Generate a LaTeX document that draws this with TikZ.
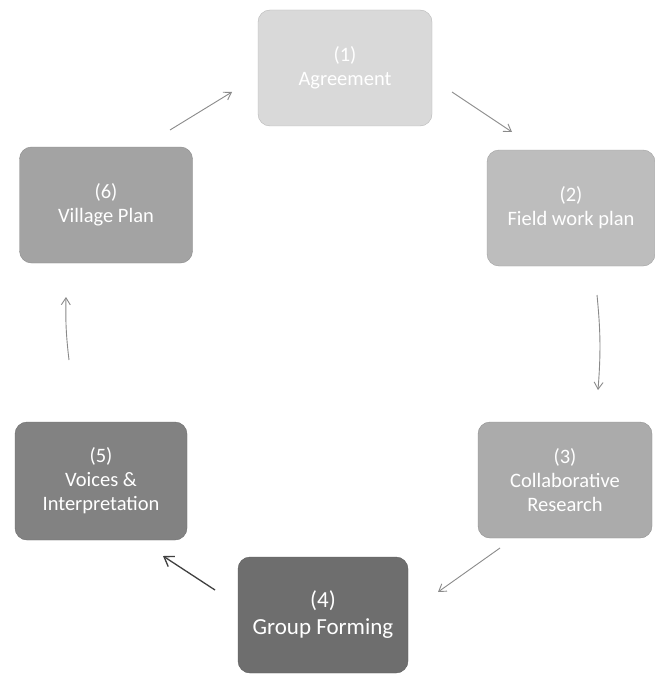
\documentclass[tikz,border=0pt]{standalone}
\usepackage{fontspec}
\setmainfont{Carlito}
\usetikzlibrary{arrows.meta}
\definecolor{c1}{HTML}{D9D9D9}
\definecolor{c2}{HTML}{BDBDBD}
\definecolor{c3}{HTML}{ABABAB}
\definecolor{c4}{HTML}{6E6E6E}
\definecolor{c5}{HTML}{828282}
\definecolor{c6}{HTML}{A3A3A3}
\definecolor{arr}{HTML}{8A8A8A}
\tikzset{
  stepbox/.style={rounded corners=12pt, minimum width=174pt, minimum height=116pt,
    align=center, text=white, font=\fontsize{20.5}{24}\selectfont, inner sep=0pt},
  flow/.style={-{Straight Barb[length=7pt,width=9pt]}, draw=arr, line width=0.9pt},
  flowdark/.style={-{Straight Barb[length=9pt,width=12pt]}, draw=black!75, line width=1.3pt}
}
\begin{document}
\begin{tikzpicture}[x=1pt,y=-1pt]
\useasboundingbox (0,0) rectangle (655,674);
\fill[white] (0,0) rectangle (655,674);

\node[stepbox, fill=c1, draw=c1!85!black, text=white] (n1) at (345,68) {(1)\\Agreement};
\node[stepbox, fill=c2, draw=c2!85!black, minimum width=168pt] (n2) at (571,208) {(2)\\Field work plan};
\node[stepbox, fill=c3, draw=c3!85!black] (n3) at (565,480) {(3)\\Collaborative\\Research};
\node[stepbox, fill=c4, draw=c4!85!black, minimum width=170pt, font=\fontsize{23}{27}\selectfont] (n4) at (323,615) {(4)\\Group Forming};
\node[stepbox, fill=c5, draw=c5!85!black, minimum width=172pt, minimum height=118pt] (n5) at (101,481) {(5)\\Voices \&\\Interpretation};
\node[stepbox, fill=c6, draw=c6!85!black, minimum width=173pt] (n6) at (106,205) {(6)\\Village Plan};

\coordinate (a61) at (170,130); \coordinate (b61) at (232,92);
\coordinate (a12) at (452,92);  \coordinate (b12) at (512,132);
\coordinate (a23) at (597,295); \coordinate (b23) at (598,390);
\coordinate (a34) at (500,548); \coordinate (b34) at (438,592);
\coordinate (a45) at (215,590); \coordinate (b45) at (163,556);
\coordinate (a56) at (69,360);  \coordinate (b56) at (66,297);

\draw[flow] (a61) -- (b61);
\draw[flow] (a12) -- (b12);
\draw[flow] (a23) to[bend left=5] (b23);
\draw[flow] (a34) -- (b34);
\draw[flowdark] (a45) -- (b45);
\draw[flow] (a56) to[bend left=4] (b56);
\end{tikzpicture}
\end{document}
